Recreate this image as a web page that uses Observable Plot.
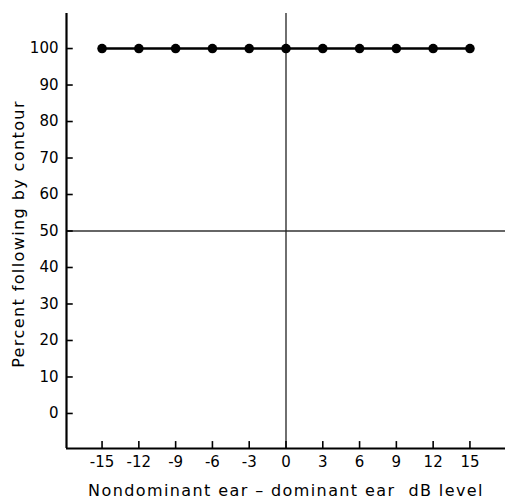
<!DOCTYPE html>
<html>
<head>
<meta charset="utf-8">
<script src="https://cdn.jsdelivr.net/npm/d3@7"></script>
<script src="https://cdn.jsdelivr.net/npm/@observablehq/plot@0.6"></script>
<style>
  html, body { margin: 0; padding: 0; background: #fff; }
  .xlab { letter-spacing: 1.4px; }
  .ylab { letter-spacing: 1.4px; }
</style>
</head>
<body>
<div id="chart"></div>
<script>
const levels = [-15, -12, -9, -6, -3, 0, 3, 6, 9, 12, 15];
const percent = [100, 100, 100, 100, 100, 100, 100, 100, 100, 100, 100];
const xTicks = [-15, -12, -9, -6, -3, 0, 3, 6, 9, 12, 15];
const yTicks = [0, 10, 20, 30, 40, 50, 60, 70, 80, 90, 100];
const xDomain = [-17.9, 17.9];
const yDomain = [-9.6, 109.6];

const data = levels.map((x, i) => ({x, y: percent[i]}));
const fmt = d => String(d);

const chart = Plot.plot({
  width: 506,
  height: 503,
  marginLeft: 66,
  marginRight: 1,
  marginTop: 13,
  marginBottom: 55,
  style: {fontFamily: "'DejaVu Sans', sans-serif", fontSize: "15px", color: "#000", background: "#fff"},
  x: {domain: xDomain},
  y: {domain: yDomain},
  marks: [
    Plot.axisX(xTicks, {tickSize: 0, tickPadding: 8, fontSize: 15, tickFormat: fmt, label: null}),
    Plot.axisY(yTicks, {tickSize: 0, tickPadding: 8, fontSize: 15, tickFormat: fmt, label: null}),
    Plot.text(["Nondominant ear – dominant ear  dB level"], {frameAnchor: "bottom", dy: 47, fontSize: 16, className: "xlab", text: d => d}),
    Plot.text(["Percent following by contour"], {frameAnchor: "left", textAnchor: "middle", dx: -48, dy: 3, rotate: -90, fontSize: 16, className: "ylab", text: d => d}),
    // reference lines
    Plot.ruleY([50], {stroke: "#333", strokeWidth: 1.3}),
    Plot.ruleX([0], {stroke: "#222", strokeWidth: 1.3}),
    // axis lines
    Plot.ruleY([yDomain[0]], {stroke: "#000", strokeWidth: 2.2}),
    Plot.ruleX([xDomain[0]], {stroke: "#000", strokeWidth: 2.2}),
    // inward tick marks
    Plot.ruleX(xTicks, {y1: yDomain[0], y2: yDomain[0] + 1.9, stroke: "#000", strokeWidth: 1.6}),
    Plot.ruleY(yTicks, {x1: xDomain[0], x2: xDomain[0] + 0.55, stroke: "#000", strokeWidth: 1.6}),
    // data
    Plot.line(data, {x: "x", y: "y", stroke: "#000", strokeWidth: 2.6}),
    Plot.dot(data, {x: "x", y: "y", r: 4.8, fill: "#000", stroke: "none"})
  ]
});
document.getElementById("chart").appendChild(chart);
</script>
</body>
</html>
